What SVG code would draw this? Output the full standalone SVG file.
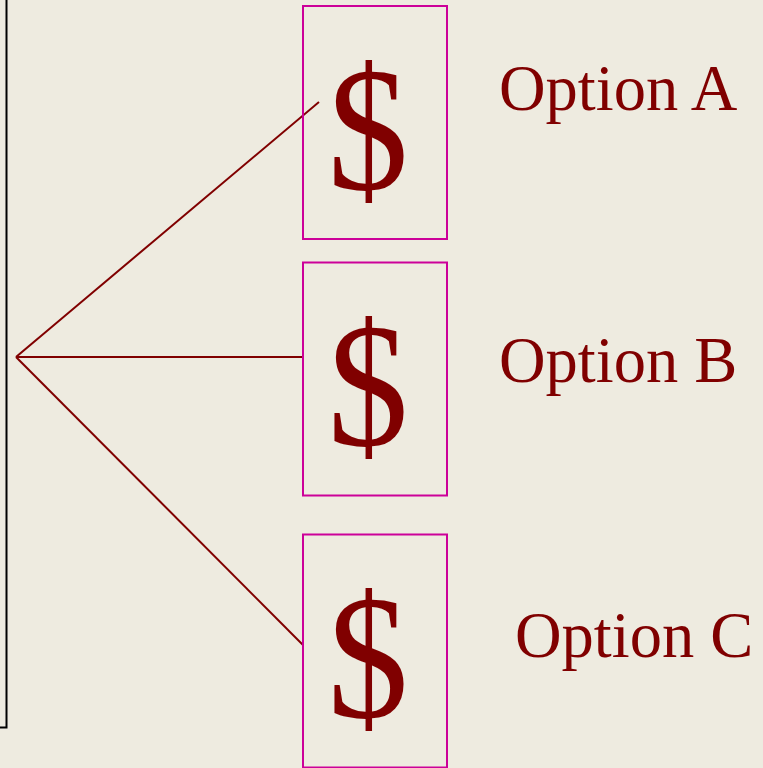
<svg xmlns="http://www.w3.org/2000/svg" width="763" height="768" viewBox="0 0 763 768">
<style>
.box{fill:none;stroke:#CC0099;stroke-width:2}
.dollar{font-family:"Liberation Serif",serif;font-size:178px;fill:#800000}
.label{font-family:"Liberation Serif",serif;font-size:64.5px;fill:#800000}
.conn{stroke:#800000;stroke-width:2;fill:none}
</style>
<rect width="763" height="768" fill="#EEEBE0"/>
<path d="M6.5,-2 V727.5 H-2" fill="none" stroke="#000" stroke-width="2"/>
<g id="connectors">
<line class="conn" x1="16" y1="357" x2="319" y2="102"/>
<line class="conn" x1="16" y1="357" x2="303" y2="357"/>
<line class="conn" x1="16" y1="357" x2="303" y2="645"/>
</g>
<g id="optionA">
<rect class="box" x="303" y="6" width="144" height="233"/>
<text class="dollar" transform="translate(368,189) scale(0.91,1)" text-anchor="middle">$</text>
<text class="label" x="499" y="110">Option A</text>
</g>
<g id="optionB">
<rect class="box" x="303" y="262.5" width="144" height="233"/>
<text class="dollar" transform="translate(368,445) scale(0.91,1)" text-anchor="middle">$</text>
<text class="label" x="499" y="382">Option B</text>
</g>
<g id="optionC">
<rect class="box" x="303" y="534.5" width="144" height="233"/>
<text class="dollar" transform="translate(368,717) scale(0.91,1)" text-anchor="middle">$</text>
<text class="label" x="515" y="657">Option C</text>
</g>
</svg>
